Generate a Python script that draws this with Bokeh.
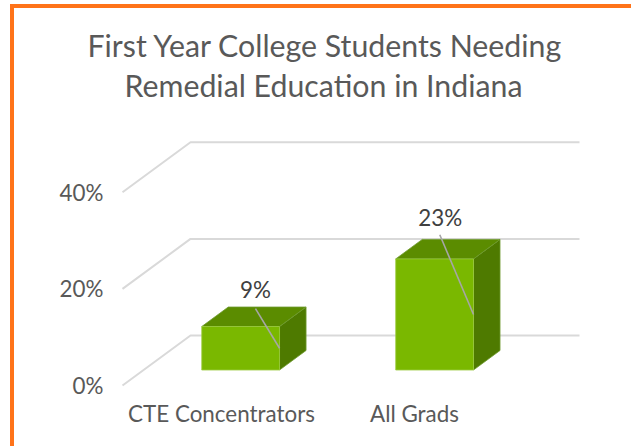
from bokeh.plotting import figure
from bokeh.models import FixedTicker, Title
from bokeh.core.properties import value
from bokeh.embed import file_html
from bokeh.resources import INLINE

categories = ["CTE Concentrators", "All Grads"]
values = [9, 23]
value_labels = ["9%", "23%"]
y_ticks = [0, 20, 40]
y_tick_labels = ["0%", "20%", "40%"]
title_lines = ["First Year College Students Needing", "Remedial Education in Indiana"]
title_offsets = [-21, 16]
title_standoffs = [0, 5]

# bar centres on the category axis, callout anchors (category units, percent units)
bar_x = [-0.01, 0.995]
leader_x = [0.176, 1.131]
leader_y = [15.9, 31.2]
label_x = [0.176, 1.133]
label_y = [19.8, 34.7]

FONT = "Lato"
TEXT = "#595959"
GRID = "#D9D9D9"
FRONT = "#7AB800"
TOP = "#5B8C00"
SIDE = "#4E7A00"
ORANGE = "#FF7319"

OX, OY = 14, 8          # where the canvas starts on the page
W, H = 631 - OX, 446 - OY
LEFT, RIGHT, TOPB, BOTTOM = 108, 600, 105, 400   # frame edges in page pixels
BORDER = 4              # the host's CSS border also enlarges the frame
PX_PER_CAT = 193.0
PX_PER_PCT = 4.83
ORIGIN_X, ORIGIN_Y = 221.0, 385.0

x_range = ((LEFT - ORIGIN_X) / PX_PER_CAT, (RIGHT - ORIGIN_X) / PX_PER_CAT)
y_range = ((ORIGIN_Y - BOTTOM) / PX_PER_PCT, (ORIGIN_Y - TOPB) / PX_PER_PCT)

DX = 68 / PX_PER_CAT
DY = 50 / PX_PER_PCT
WALL_L = (122 - ORIGIN_X) / PX_PER_CAT
WALL_R = (579 - ORIGIN_X) / PX_PER_CAT
HALF = 0.2015
D0, D1 = 0.31, 0.70


def proj(x, v, d):
    return x + d * DX, v + d * DY


p = figure(width=W, height=H, output_backend="svg", toolbar_location=None,
           x_range=x_range, y_range=y_range,
           min_border_left=LEFT - OX, min_border_right=631 - RIGHT + BORDER,
           min_border_top=TOPB - OY, min_border_bottom=446 - BOTTOM + BORDER,
           outline_line_color=None, background_fill_color="white",
           margin=(4, 0, 0, 10))
p.styles = {"border-top": f"4px solid {ORANGE}", "border-left": f"4px solid {ORANGE}",
            "box-sizing": "content-box"}
p.grid.visible = False

for line, off, so in reversed(list(zip(title_lines, title_offsets, title_standoffs))):
    p.add_layout(Title(text=line, align="left", text_font=FONT, text_font_size="30.3px",
                       text_font_style="normal", text_color=TEXT, offset=off,
                       standoff=so, text_line_height=1.0), "above")

p.yaxis.ticker = FixedTicker(ticks=y_ticks)
p.yaxis.major_label_overrides = dict(zip(y_ticks, y_tick_labels))
p.xaxis.ticker = FixedTicker(ticks=list(range(len(categories))))
p.xaxis.major_label_overrides = dict(enumerate(categories))
for ax in (p.xaxis[0], p.yaxis[0]):
    ax.axis_line_color = None
    ax.major_tick_line_color = None
    ax.minor_tick_line_color = None
    ax.major_tick_out = 0
    ax.major_tick_in = 0
    ax.minor_tick_out = 0
    ax.minor_tick_in = 0
    ax.major_label_text_font = FONT
    ax.major_label_text_font_size = "22.4px"
    ax.major_label_text_color = TEXT
p.xaxis[0].major_label_standoff = -1
p.yaxis[0].major_label_standoff = 5

for t in y_ticks:
    a = proj(WALL_L, t, 0)
    b = proj(WALL_L, t, 1)
    p.line([a[0], b[0], WALL_R], [a[1], b[1], b[1]], line_color=GRID, line_width=2)

for i, v in enumerate(values):
    l, r = bar_x[i] - HALF, bar_x[i] + HALF
    fl0, fr0, fr1, fl1 = proj(l, 0, D0), proj(r, 0, D0), proj(r, v, D0), proj(l, v, D0)
    br0, br1, bl1 = proj(r, 0, D1), proj(r, v, D1), proj(l, v, D1)
    p.patch([fr0[0], br0[0], br1[0], fr1[0]], [fr0[1], br0[1], br1[1], fr1[1]],
            fill_color=SIDE, line_color="#6F9A30", line_width=0.8)
    p.patch([fl1[0], fr1[0], br1[0], bl1[0]], [fl1[1], fr1[1], br1[1], bl1[1]],
            fill_color=TOP, line_color="#6F9A30", line_width=0.8)
    p.patch([fl0[0], fr0[0], fr1[0], fl1[0]], [fl0[1], fr0[1], fr1[1], fl1[1]],
            fill_color=FRONT, line_color="#9CCB40", line_width=0.8)
    end = proj(r, v / 2, D0)
    p.line([leader_x[i], end[0]], [leader_y[i], end[1]], line_color="#A6A6A6", line_width=1.6)

p.text(x=label_x, y=label_y, text=value_labels, text_font=value(FONT),
       text_font_size="22.4px", text_color="#404040", text_align="center",
       text_baseline="alphabetic")

open("out.html", "w").write(file_html(p, INLINE))
